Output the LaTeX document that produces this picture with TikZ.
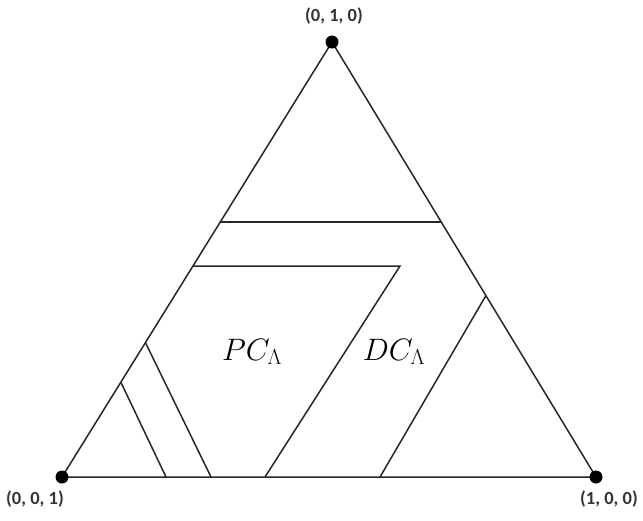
\RequirePackage{fix-cm}
\documentclass[tikz,border=0pt]{standalone}
\usepackage{fontspec}
\newfontfamily\labfont{Carlito}
\begin{document}
\begin{tikzpicture}[x=1pt,y=-1pt,
  edge/.style={line width=1.5pt, black!85},
  vdot/.style={circle, fill=black, inner sep=0pt, minimum size=13pt},
  vlab/.style={font=\labfont\bfseries\fontsize{18.5}{20}\selectfont, text=black!80},
  region/.style={font=\fontsize{31}{34}\selectfont}]
\useasboundingbox (0,0) rectangle (643,520);
% vertices
\coordinate (T) at (332,42);
\coordinate (L) at (62,477);
\coordinate (R) at (596,477);
\draw[edge] (T) -- (L) -- (R) -- cycle;
% inner segments
\path (L) -- (T) coordinate[pos=0.586] (h1l);
\path (R) -- (T) coordinate[pos=0.586] (h1r);
\draw[edge] (h1l) -- (h1r);
\path (L) -- (T) coordinate[pos=0.485] (p1);
\coordinate (p2) at (400,266);
\coordinate (p3) at (265,477);
\draw[edge] (p1) -- (p2) -- (p3);
\path (L) -- (T) coordinate[pos=0.309] (a1);
\coordinate (a2) at (211,477);
\draw[edge] (a1) -- (a2);
\path (L) -- (T) coordinate[pos=0.218] (b1);
\coordinate (b2) at (166,477);
\draw[edge] (b1) -- (b2);
\path (R) -- (T) coordinate[pos=0.417] (c1);
\coordinate (c2) at (380,477);
\draw[edge] (c1) -- (c2);
% dots
\node[vdot] (dT) at (T) {};
\node[vdot] (dL) at (L) {};
\node[vdot] (dR) at (R) {};
\node[vlab] (lT) at (334,16) {(0, 1, 0)};
\node[vlab] (lL) at (35,499) {(0, 0, 1)};
\node[vlab] (lR) at (609,499) {(1, 0, 0)};
\node[region] (pc) at (252,352) {$PC_\Lambda$};
\node[region] (dc) at (394,352) {$DC_\Lambda$};
\end{tikzpicture}
\end{document}
